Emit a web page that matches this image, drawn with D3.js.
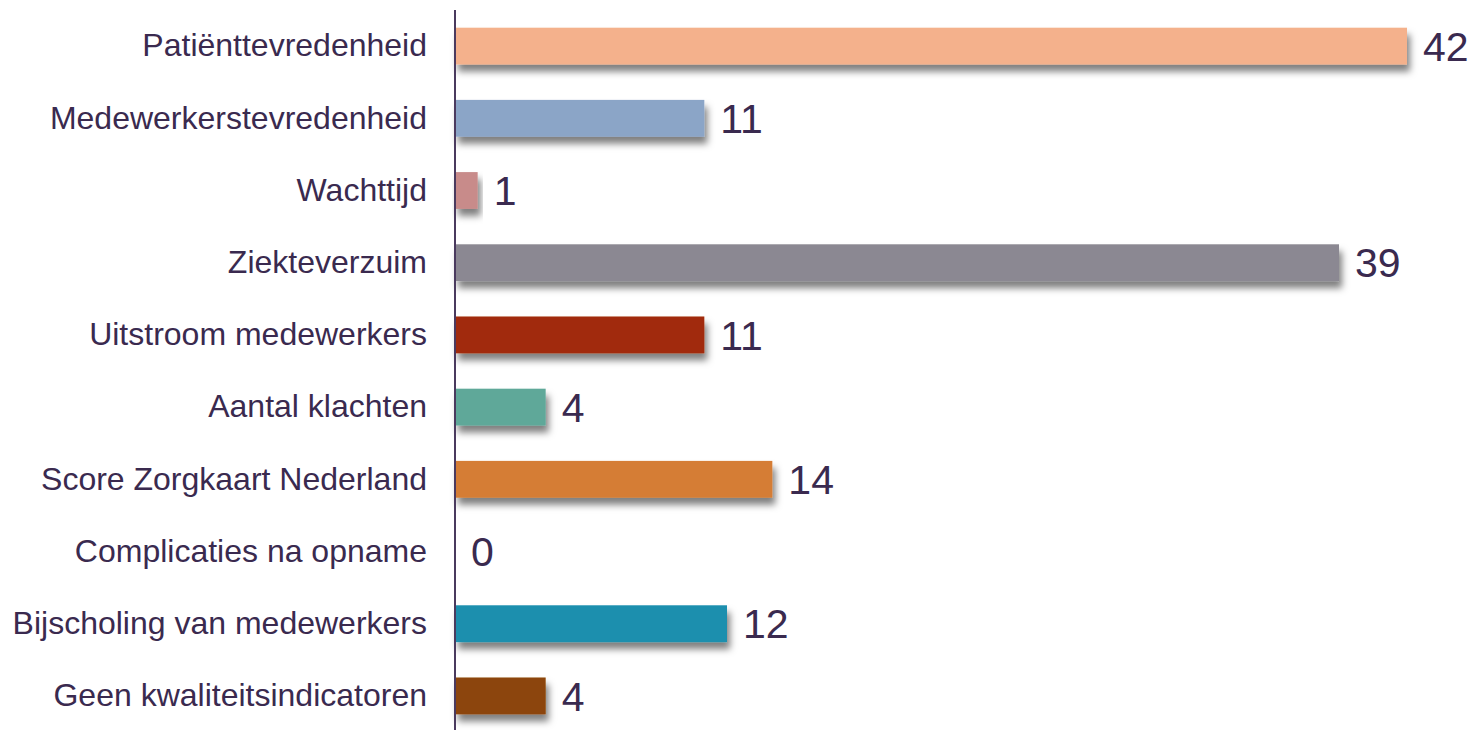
<!DOCTYPE html>
<html>
<head>
<meta charset="utf-8">
<script src="https://cdn.jsdelivr.net/npm/d3@7"></script>
<style>
  body { margin: 0; background: #fff; }
  svg { display: block; }
</style>
</head>
<body>
<svg></svg>
<script>
const categories = [
    'Patiënttevredenheid',
    'Medewerkerstevredenheid',
    'Wachttijd',
    'Ziekteverzuim',
    'Uitstroom medewerkers',
    'Aantal klachten',
    'Score Zorgkaart Nederland',
    'Complicaties na opname',
    'Bijscholing van medewerkers',
    'Geen kwaliteitsindicatoren'
];
const values = [42, 11, 1, 39, 11, 4, 14, 0, 12, 4];
const colors = ['#f4b18c', '#8ba5c7', '#c88b8a', '#8b8892', '#a12a0a',
                '#5fa899', '#d57d35', '#7f7f7f', '#1f8fae', '#8c4409'];

const SVGsize = {w: 1473, h: 730};
const textColor = '#3a2a4f';

const svg = d3.select('svg')
    .attr('width', SVGsize.w)
    .attr('height', SVGsize.h);

// soft drop shadow under the bars
const defs = svg.append('defs');
const shadow = defs.append('filter')
    .attr('id', 'shadow')
    .attr('x', '-10%').attr('y', '-30%')
    .attr('width', '130%').attr('height', '180%');
shadow.append('feDropShadow')
    .attr('dx', 3)
    .attr('dy', 7)
    .attr('stdDeviation', 3.5)
    .attr('flood-color', '#000')
    .attr('flood-opacity', 0.5);

const x0 = 455;
const scaleX = d3.scaleLinear()
    .domain([0, 42])
    .range([x0, 1407]);

const scaleY = d3.scaleBand()
    .domain(categories)
    .range([10, 732])
    .paddingInner(0.49)
    .paddingOuter(0.245);

const data = categories.map((c, i) => ({cat: c, value: values[i], color: colors[i]}));

svg.append('g')
    .selectAll('rect')
    .data(data.filter(d => d.value > 0))
    .join('rect')
    .attr('x', scaleX(0))
    .attr('y', d => scaleY(d.cat))
    .attr('width', d => scaleX(d.value) - scaleX(0))
    .attr('height', scaleY.bandwidth())
    .attr('fill', d => d.color)
    .attr('filter', 'url(#shadow)');

// axis line with category labels
const axisY = d3.axisLeft(scaleY).tickSize(0).tickPadding(28);
const axisYG = svg.append('g')
    .attr('transform', `translate(${x0}, 0)`)
    .call(axisY);
axisYG.select('.domain').remove();
axisYG.selectAll('text')
    .attr('fill', textColor)
    .style('font-family', 'Arial, "Liberation Sans", sans-serif')
    .style('font-size', '32px');

svg.append('line')
    .attr('x1', x0).attr('x2', x0)
    .attr('y1', 10).attr('y2', SVGsize.h)
    .attr('stroke', '#4a3a5e')
    .attr('stroke-width', 2);

// value labels
svg.append('g')
    .selectAll('text')
    .data(data)
    .join('text')
    .attr('x', d => scaleX(d.value) + 16)
    .attr('y', d => scaleY(d.cat) + scaleY.bandwidth() / 2)
    .attr('dy', '0.36em')
    .attr('fill', textColor)
    .style('font-family', 'Arial, "Liberation Sans", sans-serif')
    .style('font-size', '41px')
    .text(d => d.value);
</script>
</body>
</html>
